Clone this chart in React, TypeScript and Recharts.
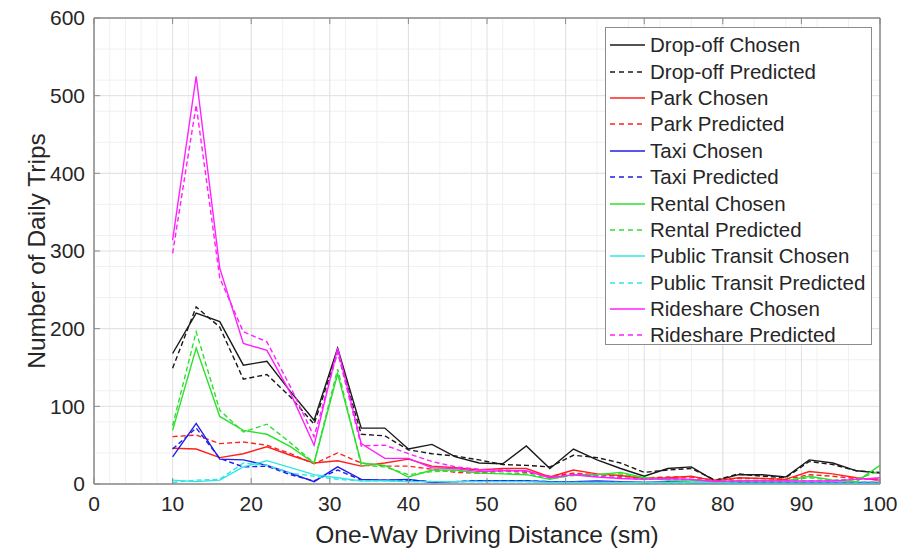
import { LineChart, Line, XAxis, YAxis, CartesianGrid, ReferenceArea } from 'recharts';

// one-way driving distance bins (sm)
const distance = [10, 13, 16, 19, 22, 25, 28, 31, 34, 37, 40, 43, 46, 49, 52, 55, 58, 61, 64, 67, 70, 73, 76, 79, 82, 85, 88, 91, 94, 97, 100];

const dropoffChosen = [168, 220, 209, 153, 158, 119, 82, 175, 72, 72, 45, 51, 35, 27, 26, 49, 20, 45, 31, 20, 10, 20, 22, 4, 12, 12, 9, 31, 27, 17, 14];
const dropoffPredicted = [149, 228, 202, 135, 141, 112, 77, 170, 64, 62, 44, 39, 36, 31, 25, 24, 22, 37, 34, 27, 15, 18, 20, 5, 13, 10, 8, 29, 25, 17, 15];
const parkChosen = [46, 45, 34, 39, 48, 37, 27, 30, 23, 27, 32, 23, 21, 18, 20, 20, 9, 18, 13, 11, 7, 8, 10, 4, 8, 7, 6, 16, 13, 8, 5];
const parkPredicted = [61, 63, 52, 54, 50, 39, 26, 40, 27, 23, 23, 19, 15, 14, 17, 15, 10, 14, 12, 10, 8, 9, 9, 5, 7, 7, 6, 12, 10, 7, 5];
const taxiChosen = [35, 78, 32, 31, 24, 14, 3, 22, 6, 5, 6, 2, 3, 4, 4, 4, 3, 3, 4, 3, 2, 3, 2, 2, 2, 2, 2, 2, 2, 2, 2];
const taxiPredicted = [45, 72, 33, 22, 23, 12, 4, 18, 5, 5, 5, 3, 3, 4, 4, 4, 3, 3, 3, 3, 2, 2, 2, 2, 2, 2, 2, 2, 2, 2, 2];
const rentalChosen = [69, 175, 87, 69, 64, 48, 27, 142, 27, 24, 9, 18, 18, 14, 13, 12, 6, 12, 12, 15, 8, 5, 5, 3, 4, 4, 4, 10, 5, 3, 24];
const rentalPredicted = [75, 196, 95, 67, 77, 53, 27, 148, 24, 22, 12, 16, 17, 14, 14, 13, 7, 11, 12, 13, 8, 6, 5, 3, 4, 4, 4, 8, 5, 6, 17];
const transitChosen = [5, 3, 5, 22, 30, 21, 12, 8, 4, 4, 3, 3, 3, 3, 3, 3, 2, 2, 2, 2, 2, 2, 2, 2, 1, 1, 1, 1, 1, 1, 1];
const transitPredicted = [2, 5, 6, 27, 24, 14, 10, 6, 4, 4, 3, 3, 3, 3, 3, 3, 2, 2, 2, 2, 2, 2, 2, 2, 1, 1, 1, 1, 1, 1, 1];
const rideshareChosen = [314, 525, 278, 181, 172, 117, 50, 175, 52, 33, 33, 21, 20, 16, 17, 17, 8, 12, 9, 7, 6, 7, 6, 3, 4, 4, 4, 4, 4, 6, 8];
const ridesharePredicted = [297, 488, 265, 196, 183, 125, 61, 170, 49, 50, 39, 29, 22, 19, 18, 16, 9, 12, 10, 8, 6, 7, 6, 4, 4, 4, 4, 4, 4, 6, 7];

const xTicks = [0, 10, 20, 30, 40, 50, 60, 70, 80, 90, 100];
const yTicks = [0, 100, 200, 300, 400, 500, 600];
const xMinor = [0, 2, 4, 6, 8, 10, 12, 14, 16, 18, 20, 22, 24, 26, 28, 30, 32, 34, 36, 38, 40, 42, 44, 46, 48, 50, 52, 54, 56, 58, 60, 62, 64, 66, 68, 70, 72, 74, 76, 78, 80, 82, 84, 86, 88, 90, 92, 94, 96, 98, 100];
const yMinor = [0, 20, 40, 60, 80, 100, 120, 140, 160, 180, 200, 220, 240, 260, 280, 300, 320, 340, 360, 380, 400, 420, 440, 460, 480, 500, 520, 540, 560, 580, 600];

const series = [
  { key: 'dropoffChosen', name: 'Drop-off Chosen', color: '#1a1a1a', dashed: false, values: dropoffChosen },
  { key: 'dropoffPredicted', name: 'Drop-off Predicted', color: '#1a1a1a', dashed: true, values: dropoffPredicted },
  { key: 'parkChosen', name: 'Park Chosen', color: '#ff2020', dashed: false, values: parkChosen },
  { key: 'parkPredicted', name: 'Park Predicted', color: '#ff2020', dashed: true, values: parkPredicted },
  { key: 'taxiChosen', name: 'Taxi Chosen', color: '#1e1ee6', dashed: false, values: taxiChosen },
  { key: 'taxiPredicted', name: 'Taxi Predicted', color: '#1e1ee6', dashed: true, values: taxiPredicted },
  { key: 'rentalChosen', name: 'Rental Chosen', color: '#2ee02e', dashed: false, values: rentalChosen },
  { key: 'rentalPredicted', name: 'Rental Predicted', color: '#2ee02e', dashed: true, values: rentalPredicted },
  { key: 'transitChosen', name: 'Public Transit Chosen', color: '#2ee6e6', dashed: false, values: transitChosen },
  { key: 'transitPredicted', name: 'Public Transit Predicted', color: '#2ee6e6', dashed: true, values: transitPredicted },
  { key: 'rideshareChosen', name: 'Rideshare Chosen', color: '#ff20ff', dashed: false, values: rideshareChosen },
  { key: 'ridesharePredicted', name: 'Rideshare Predicted', color: '#ff20ff', dashed: true, values: ridesharePredicted },
];

const data = distance.map((d, i) => {
  const row: Record<string, number> = { d };
  series.forEach((s) => {
    row[s.key] = s.values[i];
  });
  return row;
});

const FONT = '"Liberation Sans", Arial, Helvetica, sans-serif';
const TEXT = '#262626';
const AXIS = '#8c8c8c';
const DASH = '5 3';

function MatlabLegend() {
  return (
    <div
      style={{
        position: 'absolute',
        left: 605,
        top: 27,
        width: 267,
        height: 318,
        border: `1px solid ${AXIS}`,
        background: '#fff',
        fontFamily: FONT,
        fontSize: 20.5,
        color: TEXT,
        boxSizing: 'border-box',
        paddingTop: 4,
      }}
    >
      {series.map((s) => (
        <div key={s.key} style={{ display: 'flex', alignItems: 'center', height: 26.4, whiteSpace: 'nowrap' }}>
          <svg width={44} height={10} style={{ flex: 'none' }}>
            <line
              x1={4}
              x2={39}
              y1={5}
              y2={5}
              stroke={s.color}
              strokeWidth={1.3}
              strokeDasharray={s.dashed ? '5 4' : undefined}
            />
          </svg>
          <span>{s.name}</span>
        </div>
      ))}
    </div>
  );
}

export default function App() {
  return (
    <div style={{ position: 'absolute', left: 0, top: 0, width: 914, height: 550, background: '#fff' }}>
      <LineChart width={914} height={550} data={data} margin={{ top: 0, right: 0, bottom: 0, left: 0 }}>
        <CartesianGrid stroke="#f0f0f0" verticalValues={xMinor} horizontalValues={yMinor} />
        <CartesianGrid stroke="#e0e0e0" verticalValues={xTicks} horizontalValues={yTicks} />
        <XAxis
          dataKey="d"
          type="number"
          domain={[0, 100]}
          ticks={xTicks}
          height={66}
          stroke={AXIS}
          tickSize={-6}
          tickMargin={18}
          tick={{ fill: TEXT, fontSize: 21, fontFamily: FONT }}
          label={{
            value: 'One-Way Driving Distance (sm)',
            position: 'insideBottom',
            offset: 7,
            style: { fill: TEXT, fontSize: 24.5, fontFamily: FONT },
          }}
        />
        <XAxis
          xAxisId="top"
          orientation="top"
          dataKey="d"
          type="number"
          domain={[0, 100]}
          ticks={xTicks}
          height={18}
          stroke={AXIS}
          tickSize={-6}
          tick={() => <g />}
        />
        <YAxis
          type="number"
          domain={[0, 600]}
          ticks={yTicks}
          width={94}
          stroke={AXIS}
          tickSize={-6}
          tickMargin={15}
          tick={{ fill: TEXT, fontSize: 21, fontFamily: FONT }}
          label={{
            value: 'Number of Daily Trips',
            angle: -90,
            position: 'insideLeft',
            offset: 36,
            style: { fill: TEXT, fontSize: 24.5, fontFamily: FONT, textAnchor: 'middle' },
          }}
        />
        <YAxis
          yAxisId="right"
          orientation="right"
          type="number"
          domain={[0, 600]}
          ticks={yTicks}
          width={34}
          stroke={AXIS}
          tickSize={-6}
          tick={() => <g />}
        />
        {series.map((s) => (
          <Line
            key={s.key}
            dataKey={s.key}
            name={s.name}
            type="linear"
            stroke={s.color}
            strokeWidth={1.4}
            strokeDasharray={s.dashed ? DASH : undefined}
            dot={false}
            activeDot={false}
            isAnimationActive={false}
          />
        ))}
        <ReferenceArea x1={0} x2={100} y1={0} y2={600} fill="none" stroke={AXIS} strokeWidth={1} />
      </LineChart>
      <MatlabLegend />
    </div>
  );
}
